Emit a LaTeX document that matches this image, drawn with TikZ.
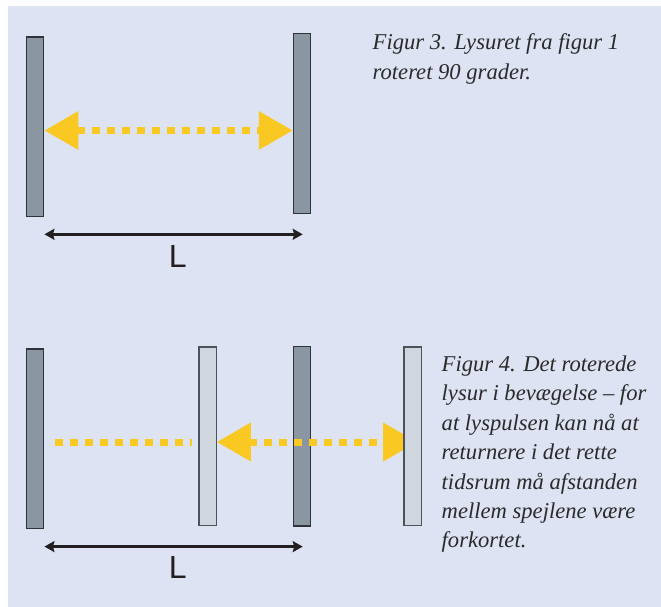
\documentclass[tikz,border=0pt]{standalone}
\usepackage{fontspec}
\setmainfont{Liberation Serif}
\newfontfamily\labelfont{Liberation Sans}
\usetikzlibrary{arrows.meta}
\pgfdeclarelayer{front}
\pgfsetlayers{main,front}
\definecolor{bgblue}{HTML}{DEE3F3}
\definecolor{darkfill}{HTML}{8A96A2}
\definecolor{lightfill}{HTML}{CFD6DF}
\definecolor{mirrorline}{HTML}{2F3338}
\definecolor{lightline}{HTML}{4E5157}
\definecolor{beamyellow}{HTML}{FAC823}
\definecolor{inkdark}{HTML}{231F20}
\definecolor{captiontext}{HTML}{2A2A2A}
\tikzset{
  beamtip/.tip={Triangle[length=34pt, width=37pt, fill=beamyellow]},
  dimtip/.tip={Stealth[length=10pt, width=11pt, inset=1.5pt]},
  darkmirror/.style={draw=mirrorline, fill=darkfill, line width=1.3pt, inner sep=0pt,
    minimum width=17.2pt, minimum height=179.4pt},
  lightmirror/.style={draw=lightline, fill=lightfill, line width=1.3pt, inner sep=0pt,
    minimum width=17.2pt, minimum height=178.5pt},
  beam/.style={draw=beamyellow, line width=7pt, dash pattern=on 8pt off 7pt},
  dimline/.style={draw=inkdark, line width=3pt, dimtip-dimtip},
  dimlabel/.style={font=\labelfont\fontsize{32}{36}\selectfont, text=inkdark, inner sep=0pt},
  caption/.style={font=\itshape\fontsize{22.6}{29.4}\selectfont, text=captiontext, align=left, inner sep=0pt, anchor=base west}
}
\begin{document}
\begin{tikzpicture}[x=1pt, y=-1pt]
\useasboundingbox (0,0) rectangle (661,607);
\fill[white] (0,0) rectangle (661,607);
\fill[bgblue] (8,6) rectangle (661,607);

% ---------- Figure 3 ----------
\node[darkmirror] (m3a) at (35.2,126.6) {};
\node[darkmirror] (m3b) at (302.0,123.5) {};
\coordinate (y3) at (0,130.5);
\draw[beam, beamtip-beamtip] (m3a.east |- y3) -- (m3b.west |- y3);
\coordinate (d3) at (0,234.3);
\draw[dimline] (m3a.east |- d3) -- ([xshift=0.7pt]m3b.center |- d3);
\node[dimlabel] (L3) at (177.7,256) {L};
% anchor = baseline of the last line
\node[caption] (cap3) at (372.5,79.2) {Figur 3. Lysuret fra figur 1\\roteret 90 grader.};

% ---------- Figure 4 ----------
\node[darkmirror] (m4a) at (35.2,438.8) {};
\node[darkmirror] (m4b) at (302.0,436.2) {};
\begin{pgfonlayer}{front}
\node[lightmirror] (l4a) at (207.6,436.2) {};
\node[lightmirror] (l4b) at (412.7,436.2) {};
\end{pgfonlayer}
\coordinate (y4) at (0,442);
\coordinate (s4) at (55,442);
\draw[beam, shorten >=6pt] (s4) -- (l4a.west |- y4);
\draw[beam, shorten >=-4.5pt, beamtip-beamtip] (l4a.east |- y4) -- (l4b.center |- y4);
\coordinate (d4) at (0,546.6);
\draw[dimline] (m4a.east |- d4) -- ([xshift=0.7pt]m4b.center |- d4);
\node[dimlabel] (L4) at (177.7,567.5) {L};
\node[caption] (cap4) at (441.5,547.8) {Figur 4. Det roterede\\lysur i bevægelse -- for\\at lyspulsen kan nå at\\returnere i det rette\\tidsrum må afstanden\\mellem spejlene være\\forkortet.};
\end{tikzpicture}
\end{document}
